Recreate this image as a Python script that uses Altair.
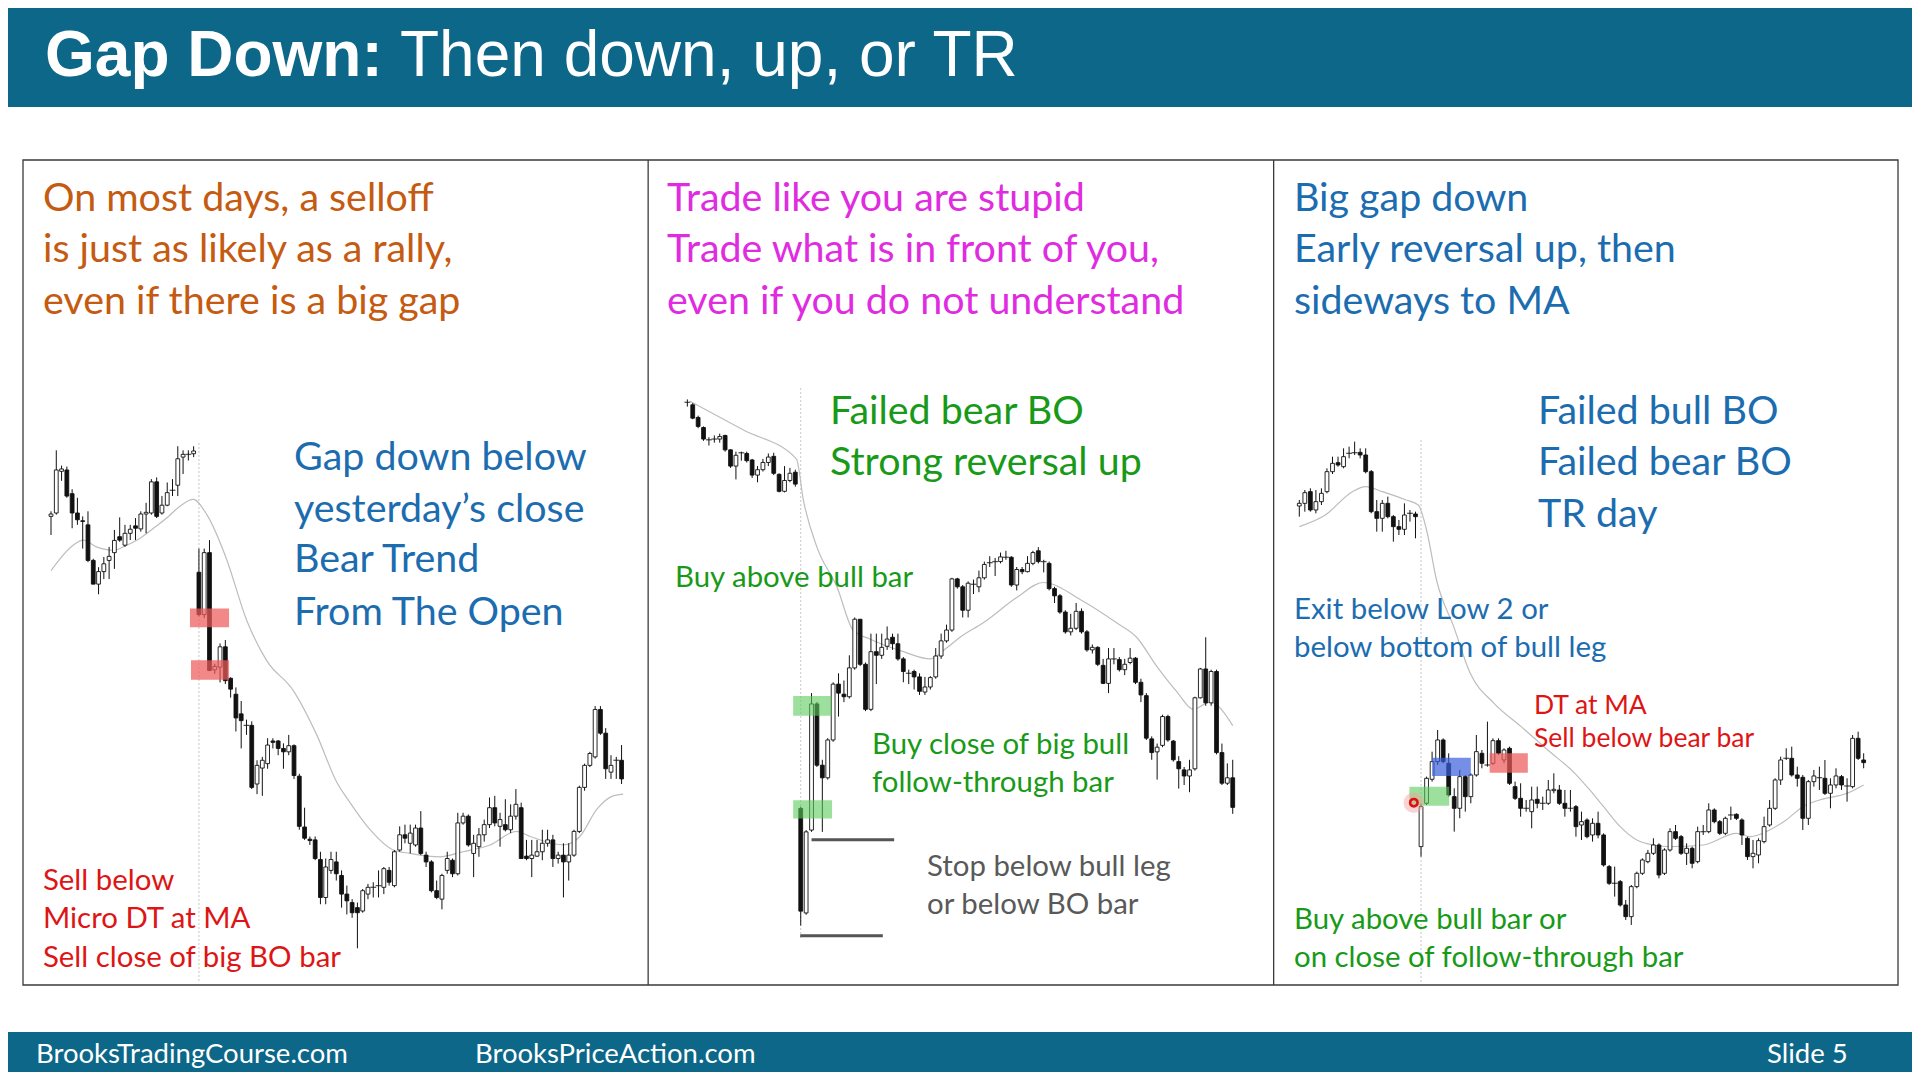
import altair as alt
import pandas as pd

OFF = 8
W, H = 1904, 1064

# ---------------- Chart 1 : bear trend from the open ----------------
c1_open = [134.5,135.5,147.8,148.2,141.2,135.5,133.2,132.0,121.5,114.5,
           118.2,121.5,123.8,128.5,126.0,129.5,131.7,130.8,135.2,135.5,
           144.7,135.5,137.8,142.2,143.7,152.0,152.8,153.0,
           118.0,105.5,123.8,89.2,90.0,96.0,86.7,82.0,76.2,72.8,
           72.8,55.5,60.2,61.5,68.2,68.2,66.0,65.0,66.8,57.8,
           42.8,39.2,39.0,33.2,22.0,30.0,32.5,28.5,23.0,20.5,
           19.0,18.0,23.0,25.0,25.5,25.0,30.0,25.5,36.0,40.5,
           38.0,37.5,42.5,34.5,32.5,24.0,21.5,30.0,33.0,29.0,
           44.0,46.0,35.0,37.0,40.5,43.5,48.5,43.0,43.5,42.0,
           46.0,48.5,34.2,33.5,34.2,35.5,38.0,39.0,33.5,34.5,
           32.5,34.5,41.5,54.5,61.0,63.5,77.5,70.5,59.0,62.5,62.5]
c1_high = [136.0,154.0,149.5,149.2,142.5,140.0,134.5,136.0,122.0,119.5,
           122.5,125.5,130.5,134.2,132.0,132.0,134.0,136.0,138.5,145.5,
           146.0,140.5,144.5,145.5,155.2,154.0,154.0,155.2,
           125.0,125.0,127.5,91.0,97.0,98.0,87.0,84.0,80.0,74.5,
           74.0,62.5,63.5,69.0,69.0,68.5,67.5,70.0,67.2,58.5,
           48.5,40.0,40.0,35.5,33.5,35.5,35.5,30.0,25.5,21.5,
           20.5,24.5,26.0,26.5,30.0,31.0,31.0,36.0,43.0,43.5,
           43.5,43.5,47.5,35.5,33.0,27.0,29.0,35.5,33.5,47.0,
           47.0,46.5,40.5,42.5,45.0,51.5,52.0,47.0,51.0,49.5,
           54.0,50.0,39.0,39.0,39.0,42.0,42.0,40.5,35.5,38.0,
           38.0,42.0,55.0,61.5,65.0,78.5,78.5,72.0,64.0,63.5,67.0]
c1_low = [129.0,135.0,145.0,140.0,131.0,132.0,125.0,121.0,114.5,111.5,
          116.0,116.0,119.0,127.0,125.5,127.5,127.5,130.0,129.5,135.0,
          134.0,135.0,137.5,140.5,140.5,147.0,151.0,152.0,
          105.0,104.5,88.8,88.0,85.5,85.0,81.0,71.0,66.0,70.0,
          54.0,52.5,52.0,60.0,66.0,64.0,60.0,64.0,57.0,42.0,
          39.0,37.5,33.0,20.0,20.0,29.0,27.0,19.0,17.0,16.0,
          7.0,17.5,21.5,22.0,22.0,23.0,25.5,25.0,35.5,38.0,
          35.0,37.0,34.5,31.0,23.5,21.5,18.5,29.0,28.0,28.5,
          43.5,37.0,28.0,34.0,38.5,42.5,43.0,37.0,41.5,41.0,
          45.0,33.5,33.0,28.0,34.0,33.0,37.0,31.0,32.0,22.0,
          27.0,34.0,41.0,53.5,60.5,63.0,70.0,57.0,57.0,57.0,55.5]
c1_close = [135.2,148.2,148.5,140.5,135.5,133.5,133.0,121.5,114.5,118.2,
            120.5,122.7,127.4,127.5,129.5,130.7,131.0,135.2,135.7,144.7,
            134.5,137.8,141.5,142.2,151.5,152.8,152.8,153.8,
            105.5,123.8,89.0,90.2,96.0,86.0,83.5,75.0,74.2,72.8,
            54.5,61.0,62.5,67.0,67.8,66.0,65.0,66.8,58.0,43.0,
            39.5,38.8,33.5,22.0,31.0,33.2,29.0,23.0,21.0,17.5,
            17.5,24.0,25.0,25.0,25.5,30.5,26.5,35.5,40.5,39.5,
            41.0,42.5,35.0,32.5,24.0,22.0,28.5,33.5,29.0,44.0,
            46.0,37.5,38.0,40.5,43.5,48.5,44.0,45.0,42.0,46.0,
            49.5,33.5,33.5,34.5,35.5,38.0,39.0,33.5,34.5,32.5,
            34.5,41.5,54.5,61.0,64.5,77.5,70.5,60.0,61.0,62.5,57.0]
ma1_i = [0, 4.2, 6.1, 8.6, 11.8, 14.3, 16.8, 19.4, 21.9, 24.4, 26.9, 29.5, 33.2, 37.0, 40.8,
         45.9, 50.3, 54.1, 56.6, 60.4, 64.8, 68, 73.6, 78, 83.1, 88.1, 90.7, 97, 100.1, 103.3, 106.4, 108.3]
ma1_p = [118.5, 126, 127.5, 125.5, 124.5, 126, 128, 131, 134, 137.5, 139.5, 135, 122, 104, 92,
         83, 70, 56, 50, 42, 36, 35, 34, 35.5, 37.5, 41.5, 40, 37.5, 40, 48, 52, 52.5]
c1_open_bar = [28]
c1_red_i1 = [26.3, 26.5]
c1_red_i2 = [33.7, 33.7]
c1_red_p1 = [101.8, 86.3]
c1_red_p2 = [107.3, 92.0]

# ---------------- Chart 2 : failed bear breakout, reversal up ----------------
c2_open = [155.2,154.5,151.0,148.2,144.8,145.0,145.0,146.0,142.0,137.5,
           141.2,141.0,139.2,135.0,136.5,138.5,140.2,135.2,130.5,133.5,135.8,
           42.5,13.5,36.5,71.5,54.5,51.0,61.5,77.0,74.2,73.5,
           81.5,95.0,82.5,70.0,86.0,85.0,87.5,90.0,88.2,84.0,
           80.0,80.5,79.0,74.8,76.2,79.0,84.8,89.0,92.0,106.2,
           104.0,97.5,104.7,104.0,106.5,110.7,111.0,111.0,112.2,112.2,
           104.5,108.8,108.2,110.5,114.0,111.0,110.5,103.5,101.5,97.0,
           91.5,92.5,97.2,91.5,86.5,87.2,82.2,77.2,84.0,83.8,
           81.0,83.0,84.2,77.5,73.8,61.8,58.2,60.0,68.0,61.2,
           55.5,53.2,51.5,53.5,73.2,81.2,71.8,80.5,58.0,49.5,51.0]
c2_high = [156.0,155.0,151.5,148.5,145.5,146.0,146.5,146.2,142.2,141.5,
           141.5,141.5,139.5,137.5,139.5,141.0,141.2,135.5,137.5,137.0,136.5,
           43.0,36.5,74.5,72.0,56.0,62.0,77.5,80.0,78.0,85.0,
           95.5,95.0,83.0,91.0,91.0,91.0,93.0,91.0,91.0,84.5,
           81.0,81.0,80.0,79.0,79.2,87.0,91.0,93.5,106.5,106.5,
           104.5,105.5,106.0,108.5,111.0,112.5,112.0,113.5,114.0,112.5,
           109.5,109.5,112.5,114.0,115.0,111.5,111.0,104.0,102.0,97.5,
           96.5,99.5,98.0,92.0,88.0,87.5,84.0,87.0,87.0,84.5,
           84.0,87.0,84.5,78.5,74.5,62.5,60.5,68.5,68.5,61.5,
           57.0,54.0,56.0,73.5,81.5,90.0,81.0,81.0,60.5,55.0,56.0]
c2_low = [154.0,150.5,148.0,144.5,143.2,144.0,144.0,141.5,137.0,133.8,
          139.0,138.5,134.2,133.0,136.0,137.5,135.0,130.2,130.2,133.0,131.8,
          10.0,13.0,36.0,54.0,36.0,50.5,61.0,68.0,72.0,73.0,
          81.0,82.0,69.5,69.5,77.0,84.0,86.5,86.5,83.5,77.5,
          77.0,75.5,74.0,74.0,75.5,78.5,84.0,88.5,91.5,103.5,
          95.5,95.5,102.0,102.5,106.0,109.5,107.0,110.5,111.5,104.0,
          103.0,107.5,108.0,110.0,110.5,108.0,103.0,99.5,96.5,91.0,
          90.5,92.0,91.0,86.0,85.5,82.0,77.0,74.5,82.5,80.5,
          79.5,82.5,77.0,72.0,61.5,56.0,50.5,59.5,61.0,55.5,
          48.0,49.0,47.0,53.0,73.0,71.0,71.0,57.5,49.0,49.0,41.0]
c2_close = [155.2,150.8,148.5,145.0,144.8,145.0,145.7,142.0,137.5,140.5,
            141.2,139.0,135.0,136.5,138.5,140.0,135.5,130.5,133.5,135.5,132.5,
            14.0,36.0,71.5,54.5,51.0,61.5,77.0,74.5,73.5,81.5,
            95.0,82.5,70.0,86.0,85.0,87.2,89.5,88.2,84.0,80.5,
            80.0,79.0,75.0,76.2,78.8,84.8,89.0,92.0,106.2,104.0,
            97.5,105.0,104.7,106.5,110.2,110.7,111.0,112.3,112.2,104.5,
            108.8,108.2,110.5,113.5,111.0,111.0,103.5,101.5,97.0,91.5,
            92.5,97.2,91.5,86.5,87.2,82.5,77.2,84.0,84.0,81.0,
            82.5,84.2,77.5,74.0,62.0,58.0,59.5,68.0,61.5,56.0,
            53.5,51.5,53.2,73.2,81.2,71.8,80.5,58.0,49.5,51.0,42.8]
ma2_i = [0.5, 10.4, 20.2, 21.5, 24, 27.7, 30.7, 33.8, 40, 45, 48, 50.5, 54.8, 61, 65.9,
         73.3, 79.5, 83.2, 86.9, 90.6, 93.7, 96.8, 101]
ma2_p = [155.5, 147.5, 139.5, 128, 115, 104, 92, 89.5, 86, 84, 87, 90, 94, 101, 105.2,
         100, 94, 90, 82, 75, 70, 72, 65.5]
c2_open_bar = [21]
c2_green_i1 = [19.6, 19.6]
c2_green_i2 = [26.7, 26.8]
c2_green_p1 = [68.2, 39.7]
c2_green_p2 = [73.7, 44.8]
c2_stop_i1 = [23.0, 20.9]
c2_stop_i2 = [38.3, 36.2]
c2_stop_p = [33.8, 7.2]

# ---------------- Chart 3 : trading range day ----------------
c3_open = [134.2,135.0,138.5,133.0,135.5,138.5,144.5,147.2,146.0,150.0,
           150.2,150.3,149.5,144.5,132.5,130.5,135.0,131.0,128.0,127.2,132.0,131.8,
           32.0,45.0,52.2,57.5,64.0,57.0,47.0,43.5,53.0,47.0,
           53.5,60.0,56.5,57.0,63.8,58.0,61.5,50.0,46.5,43.5,
           42.5,46.2,45.0,45.0,48.8,49.0,45.0,43.5,44.0,38.5,
           40.0,35.5,39.0,35.5,26.0,21.0,21.5,14.5,11.0,20.0,
           24.0,27.5,30.0,32.5,24.0,31.0,36.5,35.0,30.0,31.5,
           27.5,36.5,36.5,43.0,39.5,36.0,41.5,41.7,40.0,34.5,
           29.0,29.5,33.5,38.5,43.5,52.0,58.5,58.5,53.5,52.8,
           40.5,51.5,52.7,52.5,48.0,50.5,53.0,50.2,50.0,64.5,58.0]
c3_high = [136.0,139.0,139.5,139.0,139.5,145.5,149.0,149.0,151.5,152.0,
           153.5,151.5,151.5,145.0,136.0,136.0,137.0,131.5,130.0,135.0,133.0,132.5,
           45.0,53.0,60.5,67.0,64.5,60.0,49.5,55.0,53.5,54.0,
           65.5,61.0,69.5,64.5,64.5,61.5,62.0,51.5,51.0,46.0,
           50.0,50.0,47.0,52.0,54.0,50.5,49.0,49.0,44.5,42.5,
           40.5,40.5,42.5,36.0,26.5,26.0,22.0,16.0,20.5,24.5,
           28.5,31.0,34.5,33.0,31.5,37.5,38.5,35.5,33.0,32.0,
           38.0,38.5,45.0,43.5,40.0,41.0,44.0,42.0,40.5,35.0,
           34.0,34.5,41.0,46.0,52.5,59.0,61.5,62.0,56.0,53.5,
           52.0,55.0,56.0,58.0,52.5,55.5,53.5,52.5,65.5,66.5,60.0]
c3_low = [131.0,132.5,132.5,132.0,134.5,138.0,143.8,146.0,145.5,148.5,
          149.5,148.5,144.0,132.0,126.5,126.5,130.5,123.5,125.5,125.5,129.5,124.5,
          29.0,44.5,51.5,56.5,57.0,47.0,36.5,40.5,42.5,45.0,
          53.0,55.5,56.0,56.5,59.5,57.0,50.5,46.0,41.0,42.5,
          37.5,43.5,43.0,44.5,48.0,44.5,41.0,42.5,35.0,34.0,
          34.5,33.5,34.5,26.0,20.5,17.0,14.0,10.0,8.5,19.5,
          23.5,27.0,29.5,22.5,23.5,30.5,34.0,29.5,26.5,25.5,
          27.0,35.5,36.0,39.0,35.5,35.5,40.0,40.0,32.5,28.0,
          25.5,27.0,33.0,38.0,43.0,50.5,58.0,53.0,50.0,37.0,
          38.5,50.0,49.0,47.5,43.5,49.5,49.0,45.5,49.5,58.0,55.5]
c3_close = [135.0,138.2,133.0,135.5,138.0,144.5,147.0,146.5,149.0,150.0,
            150.2,149.5,144.5,132.5,130.5,135.0,131.0,128.0,127.2,131.5,132.0,131.0,
            44.0,52.5,57.5,64.0,57.5,47.5,43.5,53.0,47.0,53.5,
            60.5,57.0,56.5,63.8,60.0,61.0,51.0,46.5,43.5,43.5,
            46.0,45.0,45.0,49.0,49.2,45.0,43.5,43.5,38.0,39.5,
            35.0,39.0,35.5,26.5,21.0,21.0,14.5,11.0,20.0,24.0,
            28.0,30.0,32.5,23.5,31.0,36.5,34.5,30.0,31.5,27.0,
            36.5,36.5,43.0,39.5,36.0,40.5,41.5,40.5,35.5,29.0,
            30.0,33.8,38.0,43.5,52.0,58.0,58.5,53.5,52.5,40.5,
            51.5,53.2,52.7,48.0,50.5,53.2,50.5,50.2,64.5,58.5,57.2]
ma3_i = [0, 4.7, 9.6, 12, 15, 19.3, 21.5, 23, 24.8, 27.9, 30.9, 35.2, 40.1, 44.9, 49.8,
         52.5, 55, 58, 61, 64, 67, 73, 79, 81.5, 85, 88, 91, 94, 99, 102]
ma3_p = [128, 131.5, 138.5, 140, 138.5, 136, 134.5, 127, 112, 98, 84, 75, 68, 61, 54,
         49, 44, 38, 34, 32.5, 32, 32.5, 36, 35, 37, 40, 44, 46, 48, 50.5]
c3_open_bar = [22]
c3_green = dict(i1=[19.9], i2=[27.1], p1=[44.3], p2=[50.0])
c3_blue = dict(i1=[24.0], i2=[31.0], p1=[53.2], p2=[58.7])
c3_red = dict(i1=[34.4], i2=[41.3], p1=[54.2], p2=[60.0])
c3_marker_i = [20.7]
c3_marker_p = [45.2]

# ---------------- styling ----------------
BAR = "#0C6789"
ORANGE = "#C55A11"
MAGENTA = "#E02CE0"
BLUE = "#1C6CB0"
GREEN = "#189A18"
RED = "#DD1515"
GRAY = "#595959"
FONT = "Lato"
BIG, SM, XS = 39.4, 29.4, 26.5
DY = 2.5


def make_df(o, h, l, c):
    df = pd.DataFrame({"i": list(range(len(o))), "o": o, "h": h, "l": l, "c": c})
    df["top"] = df[["o", "c"]].max(axis=1)
    df["bot"] = df[["o", "c"]].min(axis=1)
    return df


def scales(n_last, x0, step, y_top, y_span):
    xs = alt.Scale(domain=[0, n_last], range=[x0 - OFF, x0 + step * n_last - OFF],
                   nice=False, zero=False, padding=0)
    ys = alt.Scale(domain=[0, 160], range=[y_top + y_span - OFF, y_top - OFF],
                   nice=False, zero=False, padding=0)
    return xs, ys


def candle_layers(df, xs, ys, bw=3.8):
    X = alt.X("i:Q", scale=xs, axis=None)
    base = alt.Chart(df)
    wick = base.mark_rule(color="#111111", strokeWidth=1).encode(
        x=X, y=alt.Y("h:Q", scale=ys, axis=None), y2="l:Q")
    bull = base.transform_filter("datum.c > datum.o").mark_bar(
        size=bw, fill="white", stroke="#111111", strokeWidth=0.9).encode(
        x=X, y=alt.Y("top:Q", scale=ys, axis=None), y2="bot:Q")
    bear = base.transform_filter("datum.c < datum.o").mark_bar(
        size=bw, fill="#111111", stroke="#111111", strokeWidth=0.9).encode(
        x=X, y=alt.Y("top:Q", scale=ys, axis=None), y2="bot:Q")
    doji = base.transform_filter("datum.c == datum.o").mark_tick(
        orient="horizontal", size=bw + 2, thickness=1.3, color="#111111").encode(
        x=X, y=alt.Y("c:Q", scale=ys, axis=None))
    return [wick, bull, bear, doji]


def ma_layer(mi, mp, xs, ys):
    return alt.Chart(pd.DataFrame({"i": mi, "p": mp})).mark_line(
        color="#BDBDBD", strokeWidth=1.2, interpolate="monotone").encode(
        x=alt.X("i:Q", scale=xs, axis=None), y=alt.Y("p:Q", scale=ys, axis=None))


def sep_layer(bar, xs, y1, y2):
    return alt.Chart(pd.DataFrame({"i": bar})).mark_rule(
        color="#C8C8C8", strokeWidth=1, strokeDash=[2, 2]).encode(
        x=alt.X("i:Q", scale=xs, axis=None), y=alt.value(y1 - OFF), y2=alt.value(y2 - OFF))


def rect_layer(i1, i2, p1, p2, xs, ys, fill, op):
    df = pd.DataFrame({"i1": i1, "i2": i2, "p1": p1, "p2": p2})
    return alt.Chart(df).mark_rect(fill=fill, opacity=op).encode(
        x=alt.X("i1:Q", scale=xs, axis=None), x2="i2:Q",
        y=alt.Y("p1:Q", scale=ys, axis=None), y2="p2:Q")


def box(x1, y1, x2, y2, **kw):
    return alt.Chart().mark_rect(**kw).encode(
        x=alt.value(x1 - OFF), x2=alt.value(x2 - OFF),
        y=alt.value(y1 - OFF), y2=alt.value(y2 - OFF))


def label(txt, x, y, size, color, weight="normal", font=FONT, baseline="middle"):
    return alt.Chart().mark_text(
        align="left", baseline=baseline, font=font, fontSize=size,
        fontWeight=weight, color=color).encode(
        x=alt.value(x - OFF), y=alt.value(y - OFF), text=alt.value(txt))


layers = []

# header / footer bars and panel frame
layers.append(box(0, 0, 1920, 107, fill=BAR))
layers.append(box(0, 1032, 1920, 1080, fill=BAR))
layers.append(box(23, 160, 1898, 985, fillOpacity=0, stroke="#3A3A3A", strokeWidth=1.3))
layers.append(box(647.5, 160, 648.8, 985, fill="#3A3A3A"))
layers.append(box(1273, 160, 1274.3, 985, fill="#3A3A3A"))

# chart 1
xs1, ys1 = scales(108, 51, 5.283, 430, 542)
layers.append(sep_layer(c1_open_bar, xs1, 443, 982))
layers.append(ma_layer(ma1_i, ma1_p, xs1, ys1))
layers += candle_layers(make_df(c1_open, c1_high, c1_low, c1_close), xs1, ys1)
layers.append(rect_layer(c1_red_i1, c1_red_i2, c1_red_p1, c1_red_p2, xs1, ys1, "#EE5A5A", 0.72))

# chart 2
xs2, ys2 = scales(101, 687.33, 5.4, 385, 576.6)
layers.append(sep_layer(c2_open_bar, xs2, 388, 940))
layers.append(ma_layer(ma2_i, ma2_p, xs2, ys2))
layers += candle_layers(make_df(c2_open, c2_high, c2_low, c2_close), xs2, ys2)
layers.append(rect_layer(c2_green_i1, c2_green_i2, c2_green_p1, c2_green_p2, xs2, ys2, "#5CCB5C", 0.6))
stop_df = pd.DataFrame({"i1": c2_stop_i1, "i2": c2_stop_i2, "p": c2_stop_p})
layers.append(alt.Chart(stop_df).mark_rule(color="#555555", strokeWidth=3).encode(
    x=alt.X("i1:Q", scale=xs2, axis=None), x2="i2:Q", y=alt.Y("p:Q", scale=ys2, axis=None)))

# chart 3
xs3, ys3 = scales(102, 1299.3, 5.533, 420, 533.3)
layers.append(sep_layer(c3_open_bar, xs3, 440, 982))
layers.append(ma_layer(ma3_i, ma3_p, xs3, ys3))
layers += candle_layers(make_df(c3_open, c3_high, c3_low, c3_close), xs3, ys3)
layers.append(rect_layer(c3_green["i1"], c3_green["i2"], c3_green["p1"], c3_green["p2"], xs3, ys3, "#5CCB5C", 0.6))
layers.append(rect_layer(c3_blue["i1"], c3_blue["i2"], c3_blue["p1"], c3_blue["p2"], xs3, ys3, "#3A5FDC", 0.7))
layers.append(rect_layer(c3_red["i1"], c3_red["i2"], c3_red["p1"], c3_red["p2"], xs3, ys3, "#EE5A5A", 0.72))
mk = pd.DataFrame({"i": c3_marker_i, "p": c3_marker_p})
layers.append(alt.Chart(mk).mark_point(shape="circle", size=420, filled=True, color="#F4A0A0", opacity=0.45).encode(
    x=alt.X("i:Q", scale=xs3, axis=None), y=alt.Y("p:Q", scale=ys3, axis=None)))
layers.append(alt.Chart(mk).mark_point(shape="circle", size=55, filled=False, color="#E01010", strokeWidth=2.6, opacity=1).encode(
    x=alt.X("i:Q", scale=xs3, axis=None), y=alt.Y("p:Q", scale=ys3, axis=None)))

# texts
layers.append(label("Gap Down:", 45, 76, 64, "white", "bold", "Liberation Sans", "alphabetic"))
layers.append(label("Then down, up, or TR", 400, 76, 64, "white", "normal", "Liberation Sans", "alphabetic"))
layers.append(label("BrooksTradingCourse.com", 36, 1055, 27.5, "white"))
layers.append(label("BrooksPriceAction.com", 475, 1055, 27.5, "white"))
layers.append(label("Slide  5", 1767, 1055, 27.5, "white"))

texts = [
    ("On most days, a selloff", 43, 196, BIG, ORANGE),
    ("is just as likely as a rally,", 43, 247, BIG, ORANGE),
    ("even if there is a big gap", 43, 299, BIG, ORANGE),
    ("Gap down below", 294, 455, BIG, BLUE),
    ("yesterday\u2019s close", 294, 507, BIG, BLUE),
    ("Bear Trend", 294, 557, BIG, BLUE),
    ("From The Open", 294, 610, BIG, BLUE),
    ("Sell below", 43, 878, SM, RED),
    ("Micro DT at MA", 43, 916, SM, RED),
    ("Sell close of big BO bar", 43, 955, SM, RED),
    ("Trade like you are stupid", 667, 196, BIG, MAGENTA),
    ("Trade what is in front of you,", 667, 247, BIG, MAGENTA),
    ("even if you do not understand", 667, 299, BIG, MAGENTA),
    ("Failed bear BO", 830, 409, BIG, GREEN),
    ("Strong reversal up", 830, 460, BIG, GREEN),
    ("Buy above bull bar", 675, 575, SM, GREEN),
    ("Buy close of big bull", 872, 742, SM, GREEN),
    ("follow-through bar", 872, 780, SM, GREEN),
    ("Stop below bull leg", 927, 864, SM, GRAY),
    ("or below BO bar", 927, 902, SM, GRAY),
    ("Big gap down", 1294, 196, BIG, BLUE),
    ("Early reversal up, then", 1294, 247, BIG, BLUE),
    ("sideways to MA", 1294, 299, BIG, BLUE),
    ("Failed bull BO", 1538, 409, BIG, BLUE),
    ("Failed bear BO", 1538, 460, BIG, BLUE),
    ("TR day", 1538, 512, BIG, BLUE),
    ("Exit below Low 2 or", 1294, 607, SM, BLUE),
    ("below bottom of bull leg", 1294, 645, SM, BLUE),
    ("DT at MA", 1534, 703, XS, RED),
    ("Sell below bear bar", 1534, 736, XS, RED),
    ("Buy above bull bar or", 1294, 917, SM, GREEN),
    ("on close of follow-through bar", 1294, 955, SM, GREEN),
]
for t, x, y, s, col in texts:
    layers.append(label(t, x, y + DY, s, col))

chart = alt.layer(*layers).resolve_scale(x="independent", y="independent").properties(
    width=W, height=H, padding=0, autosize="none", background="white"
).configure_view(stroke=None)

chart.save("out.html", embed_options={"renderer": "svg", "actions": False})
